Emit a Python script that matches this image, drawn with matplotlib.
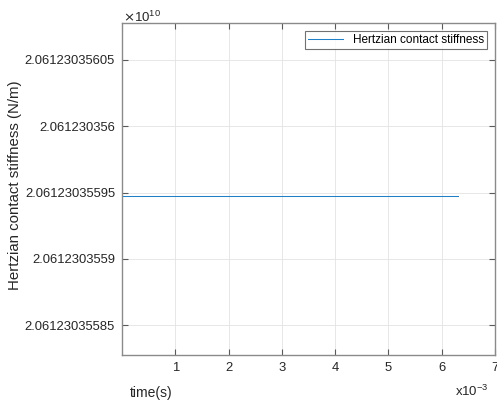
import matplotlib
matplotlib.use('Agg')
import matplotlib.pyplot as plt
from matplotlib.ticker import FuncFormatter

plt.rcParams['font.family'] = ['Liberation Sans', 'DejaVu Sans']

# data
time = [0.0, 0.0063]
stiffness = [20612303559.472, 20612303559.472]
xtick_vals = [0.001, 0.002, 0.003, 0.004, 0.005, 0.006, 0.007]
xtick_labels = ['1', '2', '3', '4', '5', '6', '7']
ytick_vals = [20612303558.5, 20612303559.0, 20612303559.5, 20612303560.0, 20612303560.5]
ylims = (20612303558.274, 20612303560.779)

fig = plt.figure(figsize=(4.97, 4.03), dpi=100)
ax = fig.add_axes([122 / 497, 48 / 403, 373 / 497, 332 / 403])

ax.plot(time, stiffness, color='#1f80c8', lw=0.75, label='Hertzian contact stiffness')

ax.set_xlim(0, 0.007)
ax.set_ylim(*ylims)
ax.set_xticks(xtick_vals)
ax.set_xticklabels(xtick_labels)
ax.set_yticks(ytick_vals)
ax.yaxis.set_major_formatter(FuncFormatter(lambda v, p: f"{v / 1e10:.12g}"))

ax.grid(True, color='#e3e3e3', lw=0.6)
ax.set_axisbelow(True)
for s in ax.spines.values():
    s.set_color('#8a8a8a')
    s.set_linewidth(1.0)
ax.tick_params(direction='in', length=4, width=0.8, color='#5a5a5a',
               labelsize=9.4, labelcolor='#262626', top=True, right=True, pad=5)

# axis labels and multipliers placed like the MATLAB figure
fig.text(15 / 497, 218 / 403, 'Hertzian contact stiffness (N/m)', fontsize=10.8,
         color='#262626', rotation=90, ha='center', va='center')
fig.text(130 / 497, 10 / 403, 'time(s)', fontsize=10, color='#262626', ha='left', va='center')
fig.text(455 / 497, 12 / 403, r'x10$^{\mathregular{-3}}$', fontsize=9.5, color='#262626',
         ha='left', va='center')
fig.text(123 / 497, 386 / 403, r'$\times$10$^{\mathregular{10}}$', fontsize=9.5, color='#262626',
         ha='left', va='center')

leg = ax.legend(loc='upper right', fontsize=8.5, frameon=True, fancybox=False,
                handlelength=3.0, borderpad=0.25, borderaxespad=0.7)
leg.get_frame().set_edgecolor('#4d4d4d')
leg.get_frame().set_linewidth(0.8)

fig.savefig('out.png', dpi=100)
